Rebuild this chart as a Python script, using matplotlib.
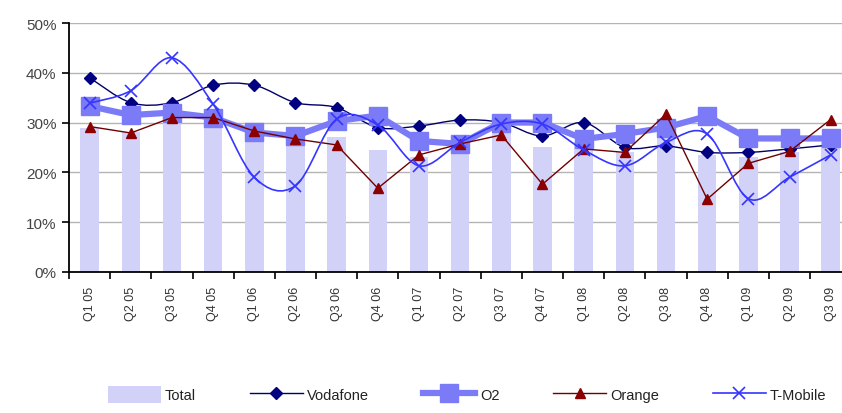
import numpy as np
import matplotlib
matplotlib.use("Agg")
import matplotlib.pyplot as plt
from matplotlib.path import Path
from matplotlib.patches import PathPatch, Patch
from matplotlib.lines import Line2D
from matplotlib.ticker import PercentFormatter

plt.rcParams['font.family'] = ['Liberation Sans Narrow', 'Liberation Sans', 'DejaVu Sans']

quarters = ["Q1 05", "Q2 05", "Q3 05", "Q4 05", "Q1 06", "Q2 06", "Q3 06", "Q4 06",
            "Q1 07", "Q2 07", "Q3 07", "Q4 07", "Q1 08", "Q2 08", "Q3 08", "Q4 08",
            "Q1 09", "Q2 09", "Q3 09"]
total = [29, 28, 31, 31, 27, 26, 27, 24.5, 23, 26, 28, 25, 26, 24, 27, 23.5, 23, 24, 26]
vodafone = [39, 34, 34, 37.5, 37.5, 34, 33, 29, 29.3, 30.5, 30, 27.3, 30, 25, 25.3, 24, 24, 24.7, 25.5]
o2 = [33.3, 31.5, 32, 31, 28, 27.3, 30.3, 31.4, 26.3, 25.7, 30, 30, 26.7, 27.7, 29, 31.3, 26.8, 26.8, 26.8]
orange = [29.2, 27.9, 31, 31, 28.3, 26.7, 25.5, 16.8, 23.5, 25.7, 27.5, 17.6, 24.7, 24, 31.7, 14.6, 21.8, 24.2, 30.6]
tmobile = [33.9, 36.4, 43, 33.7, 19, 17.3, 30.7, 29.5, 21.3, 26, 29.7, 29.7, 24.5, 21.3, 26, 27.7, 14.7, 19, 23.5]

x = np.arange(len(quarters))


def smooth_path(xs, ys):
    # Catmull-Rom style bezier through the points (like Excel "smoothed line")
    pts = np.column_stack([xs, ys]).astype(float)
    ext = np.vstack([pts[0], pts, pts[-1]])
    verts = [pts[0]]
    codes = [Path.MOVETO]
    for i in range(len(pts) - 1):
        p0, p1, p2, p3 = ext[i], ext[i + 1], ext[i + 2], ext[i + 3]
        c1 = p1 + (p2 - p0) / 6.0
        c2 = p2 - (p3 - p1) / 6.0
        verts += [c1, c2, p2]
        codes += [Path.CURVE4] * 3
    return Path(verts, codes)


fig = plt.figure(figsize=(8.42, 4.14), dpi=100)
ax = fig.add_axes([0.082, 0.341, 0.929, 0.601])

ax.bar(x, total, width=0.45, color='#d2d2f8', zorder=1)

# Vodafone
ax.add_patch(PathPatch(smooth_path(x, vodafone), facecolor='none', edgecolor='#000066', lw=1.0, zorder=3))
ax.plot(x, vodafone, ls='none', marker='D', ms=6, color='#000080', zorder=3)
# O2
ax.plot(x, o2, color='#7b7bf7', lw=4.5, marker='s', ms=13, zorder=4)
# Orange
ax.plot(x, orange, color='#700000', lw=1.0, marker='^', ms=7.5, mfc='#8b0000', mec='#8b0000', zorder=5)
# T-Mobile
ax.add_patch(PathPatch(smooth_path(x, tmobile), facecolor='none', edgecolor='#3535ff', lw=1.2, zorder=6))
ax.plot(x, tmobile, ls='none', marker='x', ms=9, mew=1.2, color='#3535ff', zorder=6)

ax.set_xlim(-0.5, len(quarters) - 0.5)
ax.set_ylim(0, 50)
ax.yaxis.set_major_formatter(PercentFormatter(decimals=0))
ax.set_yticks([0, 10, 20, 30, 40, 50])
ax.grid(axis='y', color='#b4b4b4', lw=1.0, zorder=0)
ax.set_axisbelow(True)

ax.set_xticks(x)
ax.set_xticklabels(quarters, rotation=90, fontsize=9, color='#333333')
ax.set_xticks(np.arange(-0.5, len(quarters), 1), minor=True)
ax.tick_params(axis='x', which='major', length=0, pad=10)
ax.tick_params(axis='x', which='minor', length=5, width=1.2, direction='out')
ax.tick_params(axis='y', length=5, width=1.2, labelsize=11, labelcolor='#444444', pad=4)

for s in ['top', 'right']:
    ax.spines[s].set_visible(False)
for s in ['left', 'bottom']:
    ax.spines[s].set_linewidth(1.3)

handles = [
    Patch(facecolor='#d2d2f8', edgecolor='none'),
    Line2D([], [], color='#000066', lw=1.0, marker='D', ms=6, mfc='#000080', mec='#000080'),
    Line2D([], [], color='#7b7bf7', lw=4.5, marker='s', ms=13),
    Line2D([], [], color='#700000', lw=1.0, marker='^', ms=7.5, mfc='#8b0000', mec='#8b0000'),
    Line2D([], [], color='#3535ff', lw=1.2, marker='x', ms=9, mew=1.2),
]
labels = ["Total", "Vodafone", "O2", "Orange", "T-Mobile"]
fig.legend(handles, labels, loc='center', bbox_to_anchor=(0.555, 0.045), ncol=5, frameon=False,
           fontsize=10.5, handlelength=3.6, handleheight=1.4, columnspacing=3.7, handletextpad=0.3,
           labelcolor='#222222')

fig.savefig("out.png", dpi=100)
